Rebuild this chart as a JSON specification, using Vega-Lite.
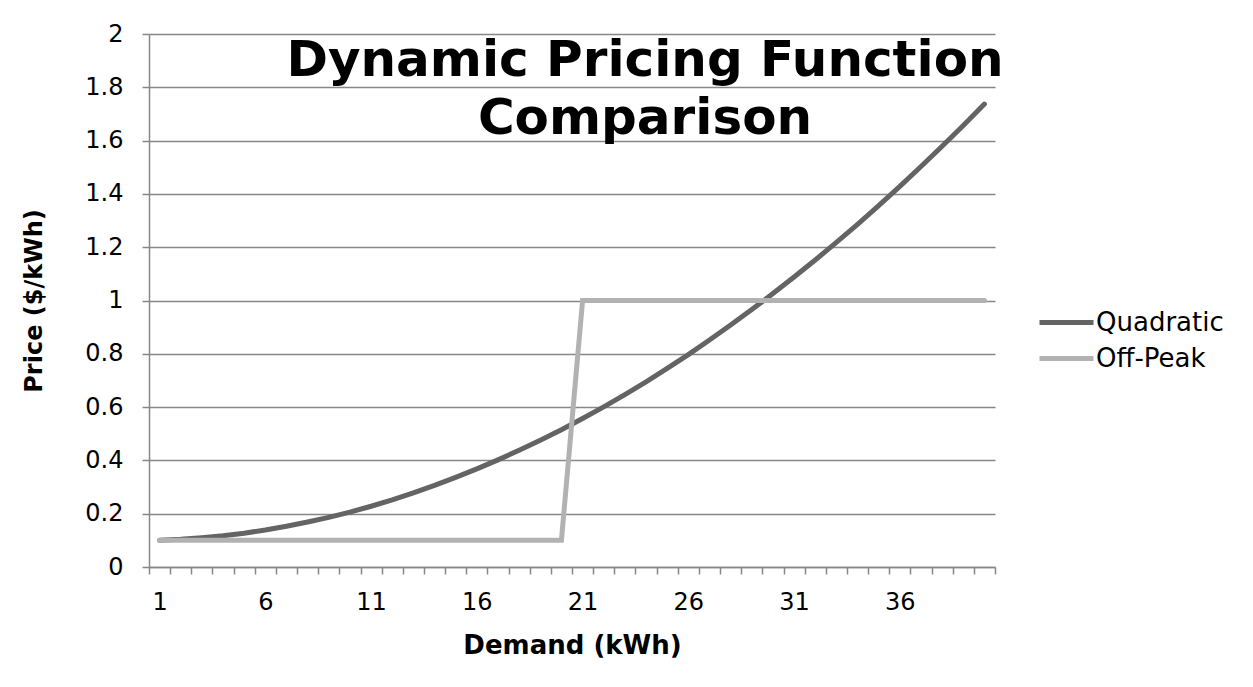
{
  "$schema": "https://vega.github.io/schema/vega-lite/v6.json",
  "autosize": {"type": "none"},
  "padding": {"left": 149, "top": 34, "right": 258, "bottom": 120},
  "width": 846,
  "height": 533,
  "background": "white",
  "config": {
    "font": "DejaVu Sans",
    "view": {"stroke": null}
  },
  "title": {
    "text": ["Dynamic Pricing Function", "Comparison"],
    "font": "DejaVu Sans",
    "fontSize": 50,
    "fontWeight": "bold",
    "color": "black",
    "lineHeight": 58,
    "anchor": "middle",
    "frame": "group",
    "baseline": "top",
    "offset": -10,
    "dx": 73,
    "dy": 112
  },
  "data": {
    "values": [
      {"demand": 1, "Quadratic": 0.100, "Off-Peak": 0.1},
      {"demand": 2, "Quadratic": 0.104, "Off-Peak": 0.1},
      {"demand": 3, "Quadratic": 0.110, "Off-Peak": 0.1},
      {"demand": 4, "Quadratic": 0.117, "Off-Peak": 0.1},
      {"demand": 5, "Quadratic": 0.127, "Off-Peak": 0.1},
      {"demand": 6, "Quadratic": 0.139, "Off-Peak": 0.1},
      {"demand": 7, "Quadratic": 0.153, "Off-Peak": 0.1},
      {"demand": 8, "Quadratic": 0.169, "Off-Peak": 0.1},
      {"demand": 9, "Quadratic": 0.186, "Off-Peak": 0.1},
      {"demand": 10, "Quadratic": 0.206, "Off-Peak": 0.1},
      {"demand": 11, "Quadratic": 0.228, "Off-Peak": 0.1},
      {"demand": 12, "Quadratic": 0.252, "Off-Peak": 0.1},
      {"demand": 13, "Quadratic": 0.278, "Off-Peak": 0.1},
      {"demand": 14, "Quadratic": 0.306, "Off-Peak": 0.1},
      {"demand": 15, "Quadratic": 0.336, "Off-Peak": 0.1},
      {"demand": 16, "Quadratic": 0.368, "Off-Peak": 0.1},
      {"demand": 17, "Quadratic": 0.402, "Off-Peak": 0.1},
      {"demand": 18, "Quadratic": 0.438, "Off-Peak": 0.1},
      {"demand": 19, "Quadratic": 0.476, "Off-Peak": 0.1},
      {"demand": 20, "Quadratic": 0.515, "Off-Peak": 0.1},
      {"demand": 21, "Quadratic": 0.557, "Off-Peak": 1},
      {"demand": 22, "Quadratic": 0.601, "Off-Peak": 1},
      {"demand": 23, "Quadratic": 0.647, "Off-Peak": 1},
      {"demand": 24, "Quadratic": 0.695, "Off-Peak": 1},
      {"demand": 25, "Quadratic": 0.745, "Off-Peak": 1},
      {"demand": 26, "Quadratic": 0.797, "Off-Peak": 1},
      {"demand": 27, "Quadratic": 0.852, "Off-Peak": 1},
      {"demand": 28, "Quadratic": 0.908, "Off-Peak": 1},
      {"demand": 29, "Quadratic": 0.966, "Off-Peak": 1},
      {"demand": 30, "Quadratic": 1.026, "Off-Peak": 1},
      {"demand": 31, "Quadratic": 1.088, "Off-Peak": 1},
      {"demand": 32, "Quadratic": 1.152, "Off-Peak": 1},
      {"demand": 33, "Quadratic": 1.218, "Off-Peak": 1},
      {"demand": 34, "Quadratic": 1.286, "Off-Peak": 1},
      {"demand": 35, "Quadratic": 1.356, "Off-Peak": 1},
      {"demand": 36, "Quadratic": 1.428, "Off-Peak": 1},
      {"demand": 37, "Quadratic": 1.503, "Off-Peak": 1},
      {"demand": 38, "Quadratic": 1.579, "Off-Peak": 1},
      {"demand": 39, "Quadratic": 1.657, "Off-Peak": 1},
      {"demand": 40, "Quadratic": 1.737, "Off-Peak": 1}
    ]
  },
  "transform": [
    {"fold": ["Quadratic", "Off-Peak"], "as": ["series", "price"]}
  ],
  "mark": {"type": "line", "strokeWidth": 5, "strokeCap": "round", "strokeJoin": "miter"},
  "encoding": {
    "x": {
      "field": "demand",
      "type": "quantitative",
      "scale": {"domain": [0.5, 40.5], "nice": false, "zero": false},
      "axis": {
        "title": "Demand (kWh)",
        "titleFont": "DejaVu Sans",
        "titleFontSize": 26,
        "titleFontWeight": "bold",
        "titleColor": "black",
        "titlePadding": 18,
        "values": [0.5,1.5,2.5,3.5,4.5,5.5,6.5,7.5,8.5,9.5,10.5,11.5,12.5,13.5,14.5,15.5,16.5,17.5,18.5,19.5,20.5,21.5,22.5,23.5,24.5,25.5,26.5,27.5,28.5,29.5,30.5,31.5,32.5,33.5,34.5,35.5,36.5,37.5,38.5,39.5,40.5],
        "labelExpr": "(datum.value % 5 == 0.5 && datum.value < 40) ? toString(datum.value + 0.5) : ''",
        "labelOffset": 10.575,
        "labelOverlap": false,
        "labelFlush": false,
        "labelBound": false,
        "labelFontSize": 24,
        "labelColor": "black",
        "labelPadding": 16,
        "grid": false,
        "domainColor": "#878787",
        "domainWidth": 1.5,
        "tickColor": "#878787",
        "tickWidth": 1.5,
        "tickSize": 7
      }
    },
    "y": {
      "field": "price",
      "type": "quantitative",
      "scale": {"domain": [0, 2], "nice": false},
      "axis": {
        "title": "Price ($/kWh)",
        "titleFont": "DejaVu Sans",
        "titleFontSize": 24,
        "titleFontWeight": "bold",
        "titleColor": "black",
        "titlePadding": 38,
        "values": [0, 0.2, 0.4, 0.6, 0.8, 1, 1.2, 1.4, 1.6, 1.8, 2],
        "format": ".1~f",
        "labelFontSize": 24,
        "labelColor": "black",
        "labelPadding": 19,
        "grid": true,
        "gridColor": "#878787",
        "gridWidth": 1.5,
        "domainColor": "#878787",
        "domainWidth": 1.5,
        "tickColor": "#878787",
        "tickWidth": 1.5,
        "tickSize": 7
      }
    },
    "color": {
      "field": "series",
      "type": "nominal",
      "scale": {"domain": ["Quadratic", "Off-Peak"], "range": ["#646464", "#b2b2b2"]},
      "legend": {
        "title": null,
        "orient": "none",
        "legendX": 900,
        "legendY": 271,
        "symbolType": "M-1.8,0H1.8",
        "symbolSize": 900,
        "symbolStrokeWidth": 5,
        "symbolFillColor": "transparent",
        "labelFontSize": 26,
        "labelColor": "black",
        "labelOffset": 12,
        "rowPadding": 5
      }
    }
  }
}
